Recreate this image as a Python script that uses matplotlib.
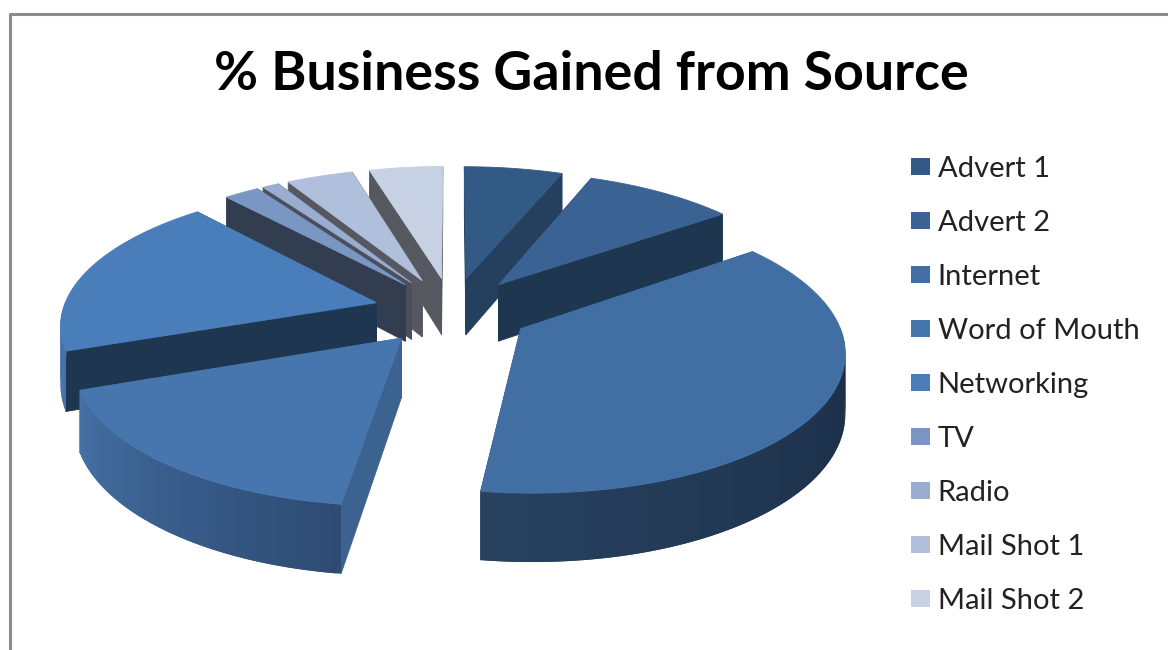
import numpy as np
import matplotlib
matplotlib.use('Agg')
import matplotlib.pyplot as plt
from matplotlib.colors import to_rgb
from matplotlib.lines import Line2D
from matplotlib.patches import Patch

plt.rcParams['font.family'] = ['Lato', 'DejaVu Sans']

# Share of business per source (percent)
sources = ['Advert 1', 'Advert 2', 'Internet', 'Word of Mouth', 'Networking',
           'TV', 'Radio', 'Mail Shot 1', 'Mail Shot 2']
shares = [5.9, 9.0, 37.3, 17.2, 19.1, 2.1, 1.0, 4.0, 4.4]

top_colors = ['#335A85', '#3A6394', '#426FA3', '#4776AE', '#4A7EBB',
              '#7A97C4', '#98ADD0', '#B0BFDB', '#C7D1E4']
# Flat colour of the cut faces
cut_colors = ['#25405F', '#1F3650', '#2A476B', '#3C6290', '#1F3650',
              '#323D50', '#4A4F5C', '#555860', '#55585F']
# Rim shading at the two ends of each slice's visible rim
rim_colors = {2: ('#1A2C44', '#27415F'),
              3: ('#2E4B73', '#4571A5'),
              4: ('#4472A8', '#4472A8')}

# Projection of the tilted, exploded pie into figure pixels
CX, CY = 452, 311
SCALE_X, SCALE_Y = 314, 136
DEPTH = 58
PERSPECTIVE = 0.14
EXPLODE = 0.25


def project(u, v, z=0.0):
    p = 1 / (1 + PERSPECTIVE * v)
    return CX + SCALE_X * u * p, CY - SCALE_Y * v * p + DEPTH * z * p


def polar(theta, off_u, off_v, r=1.0):
    return off_u + r * np.sin(theta), off_v + r * np.cos(theta)


def face(ax, pts, color, lw=0.6):
    xs, ys = zip(*pts)
    ax.fill(xs, ys, facecolor=color, edgecolor=color if lw else 'none', linewidth=lw)


fig = plt.figure(figsize=(11.68, 6.5), dpi=100)
ax = fig.add_axes([0, 0, 1, 1])
ax.set_xlim(0, 1168)
ax.set_ylim(650, 0)
ax.axis('off')

# Chart frame, open towards the right and bottom
fig.add_artist(Line2D([9.5 / 1168, 9.5 / 1168, 1], [0, 1 - 13.5 / 650, 1 - 13.5 / 650],
                      color='#8C8C8C', linewidth=2.2))

edges = np.radians(np.concatenate([[0], np.cumsum(shares)]) * 3.6)
mids = (edges[:-1] + edges[1:]) / 2

# Back slices first so the front ones overlap them
for i in np.argsort(-np.cos(mids)):
    a0, a1 = edges[i], edges[i + 1]
    off_u = EXPLODE * np.sin(mids[i])
    off_v = EXPLODE * np.cos(mids[i])
    thetas = np.linspace(a0, a1, max(4, int(np.degrees(a1 - a0) / 0.75)))
    arc_u, arc_v = polar(thetas, off_u, off_v)

    # Cut faces
    for a in (a0, a1):
        u, v = polar(a, off_u, off_v)
        face(ax, [project(off_u, off_v), project(u, v),
                  project(u, v, 1), project(off_u, off_v, 1)], cut_colors[i])

    # Rim, only the part turned towards the viewer; each band runs under the next one
    if i in rim_colors:
        c0, c1 = np.array(to_rgb(rim_colors[i][0])), np.array(to_rgb(rim_colors[i][1]))
        seen = np.where(np.cos(thetas) < 0.02)[0]
        for k in seen[:-1]:
            t = (k - seen[0]) / max(1, len(seen) - 2)
            n = min(k + 2, len(thetas) - 1)
            face(ax, [project(arc_u[k], arc_v[k]), project(arc_u[n], arc_v[n]),
                      project(arc_u[n], arc_v[n], 1), project(arc_u[k], arc_v[k], 1)],
                 tuple(c0 + (c1 - c0) * t), lw=0)

    # Top surface
    top = [project(off_u, off_v)] + [project(a, b) for a, b in zip(arc_u, arc_v)]
    face(ax, top, top_colors[i])

ax.text(591, 74, '% Business Gained from Source', ha='center', va='center',
        fontsize=38.6, fontweight='bold', color='black')

handles = [Patch(facecolor=c, edgecolor='none', label=s) for c, s in zip(top_colors, sources)]
ax.legend(handles=handles, loc='upper left', bbox_to_anchor=(911 / 1168, 1 - 156 / 650),
          frameon=False, fontsize=21, labelcolor='#222222', labelspacing=0.96,
          handlelength=0.65, handleheight=0.55, handletextpad=0.27, borderpad=0, borderaxespad=0)

plt.savefig('out.png', dpi=100)
